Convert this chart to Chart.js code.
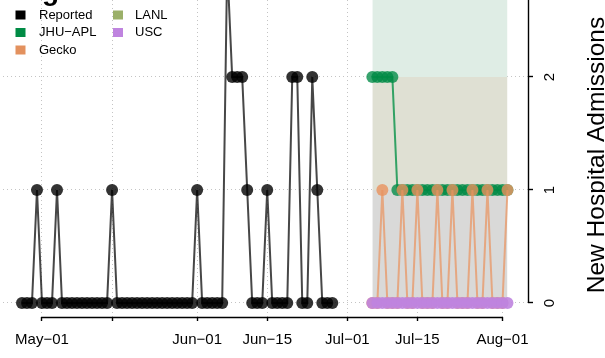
<!DOCTYPE html>
<html>
<head>
<meta charset="utf-8">
<script src="https://cdn.jsdelivr.net/npm/chart.js@4/dist/chart.umd.min.js"></script>
<style>
html,body{margin:0;padding:0;background:#ffffff;}
canvas{display:block;}
</style>
</head>
<body>
<canvas id="c" width="605" height="358" style="width:605px;height:358px"></canvas>
<script>
// ---------- data ----------
const originDate = '2020-05-01';
const seriesNames = ['Reported', 'JHU\u2212APL', 'Gecko', 'LANL', 'USC'];

const reportedStart = '2020-04-27';
const reportedValues = [
  0,0,0,1,
  0,0,0,1,0,0,0,0,0,0,0,0,0,0,1,0,0,0,0,0,0,0,0,0,0,0,0,0,0,0,0,
  1,0,0,0,0,0,3,2,2,2,1,0,0,0,1,0,0,0,0,2,2,0,0,2,1,0,0,0
];

const forecastStart = '2020-07-06';
const jhuValues   = [2,2,2,2,2,1,1,1,1,1,1,1,1,1,1,1,1,1,1,1,1,1,1,1,1,1,1,1];
const geckoValues = [0,0,1,0,0,0,1,0,0,1,0,0,0,1,0,0,1,0,0,0,1,0,0,1,0,0,0,1];
const lanlValues  = [];
const uscValues   = [0,0,0,0,0,0,0,0,0,0,0,0,0,0,0,0,0,0,0,0,0,0,0,0,0,0,0,0];

// shaded forecast bands (lower/upper edges)
const bandEdges = [0, 1, 2, 3];

const tickDates  = ['2020-05-01','2020-05-15','2020-06-01','2020-06-15','2020-07-01','2020-07-15','2020-08-01'];
const tickLabels = ['May\u221201','','Jun\u221201','Jun\u221215','Jul\u221201','Jul\u221215','Aug\u221201'];
const yTicks = [0, 1, 2];
const yTitle = 'New Hospital Admissions';
const titleText = 'g';

// ---------- helpers ----------
function dayNum(s){ return (Date.parse(s + 'T00:00:00Z') - Date.parse(originDate + 'T00:00:00Z')) / 86400000; }
function series(start, vals){ const d0 = dayNum(start); return vals.map((v, i) => ({x: d0 + i, y: v})); }
const fcFirst = dayNum(forecastStart);
const fcLast = fcFirst + jhuValues.length - 1;
function band(level){ return [{x: fcFirst, y: level}, {x: fcLast, y: level}]; }

const legendColors = ['#000000', '#008B45', '#E3915E', '#9BB069', '#BF84DF'];
const FONT = '"Liberation Sans", Arial, sans-serif';

const common = {type: 'line', showLine: true, tension: 0, pointRadius: 6, pointHoverRadius: 6, pointBorderWidth: 0, fill: false};

const datasets = [
  Object.assign({}, common, {label: seriesNames[4], data: series(forecastStart, uscValues), order: 1,
    borderColor: 'rgba(191,132,223,0.8)', borderWidth: 2, pointBackgroundColor: 'rgba(191,132,223,0.9)'}),
  Object.assign({}, common, {label: seriesNames[2], data: series(forecastStart, geckoValues), order: 2,
    borderColor: 'rgba(232,149,100,0.75)', borderWidth: 2, pointBackgroundColor: 'rgba(232,146,94,0.8)'}),
  Object.assign({}, common, {label: seriesNames[1], data: series(forecastStart, jhuValues), order: 3,
    borderColor: 'rgba(20,150,80,0.85)', borderWidth: 2, pointBackgroundColor: 'rgba(0,139,69,0.78)'}),
  Object.assign({}, common, {label: seriesNames[3], data: series(forecastStart, lanlValues), order: 4,
    borderColor: 'rgba(155,176,105,0.8)', borderWidth: 2, pointBackgroundColor: 'rgba(155,176,105,0.8)'}),
  Object.assign({}, common, {label: seriesNames[0], data: series(reportedStart, reportedValues), order: 5,
    borderColor: 'rgba(25,25,25,0.8)', borderWidth: 2, pointBackgroundColor: 'rgba(0,0,0,0.8)'}),
  {type: 'line', label: 'band3', data: band(bandEdges[3]), order: 10, fill: {value: bandEdges[2]},
    backgroundColor: '#dfede5', borderWidth: 0, pointRadius: 0, pointHoverRadius: 0},
  {type: 'line', label: 'band2', data: band(bandEdges[2]), order: 11, fill: {value: bandEdges[1]},
    backgroundColor: '#dfe0d3', borderWidth: 0, pointRadius: 0, pointHoverRadius: 0},
  {type: 'line', label: 'band1', data: band(bandEdges[1]), order: 12, fill: {value: bandEdges[0]},
    backgroundColor: '#d9d9d8', borderWidth: 0, pointRadius: 0, pointHoverRadius: 0}
];

function noPad(s){ s.paddingTop = 0; s.paddingBottom = 0; s.paddingLeft = 0; s.paddingRight = 0; }

const decor = {
  id: 'decor',
  afterDraw(chart){
    const ctx = chart.ctx, xs = chart.scales.x, ys = chart.scales.y, ca = chart.chartArea;
    ctx.save();
    // axis lines (R style: from first to last tick)
    ctx.strokeStyle = '#000'; ctx.lineWidth = 1.4;
    ctx.beginPath();
    const xa = xs.getPixelForValue(dayNum(tickDates[0]));
    const xb = xs.getPixelForValue(dayNum(tickDates[tickDates.length - 1]));
    ctx.moveTo(xa, ca.bottom + 0.5); ctx.lineTo(xb, ca.bottom + 0.5);
    ctx.moveTo(ca.right + 0.5, ys.getPixelForValue(yTicks[0])); ctx.lineTo(ca.right + 0.5, ys.getPixelForValue(3));
    ctx.stroke();

    // title (mostly above the visible area)
    ctx.fillStyle = '#000';
    ctx.font = 'bold 28px ' + FONT;
    ctx.textAlign = 'left'; ctx.textBaseline = 'alphabetic';
    ctx.fillText(titleText, 42, 0);

    // y axis title
    ctx.save();
    ctx.translate(604, 155);
    ctx.rotate(-Math.PI / 2);
    ctx.font = '24.5px ' + FONT;
    ctx.textAlign = 'center'; ctx.textBaseline = 'alphabetic';
    ctx.fillText(yTitle, 0, 0);
    ctx.restore();

    // legend (two columns)
    ctx.font = '13px ' + FONT;
    ctx.textBaseline = 'middle'; ctx.textAlign = 'left';
    const rows = [15, 32.5, 50];
    const cols = [{sq: 20.5, tx: 39}, {sq: 118, tx: 135}];
    seriesNames.forEach((name, i) => {
      const c = cols[Math.floor(i / 3)], ry = rows[i % 3];
      ctx.fillStyle = legendColors[i];
      ctx.fillRect(c.sq - 5, ry - 4.5, 10, 9);
      ctx.fillStyle = '#000';
      ctx.fillText(name, c.tx, ry);
    });
    ctx.restore();
  }
};

new Chart(document.getElementById('c'), {
  type: 'line',
  data: {datasets},
  options: {
    responsive: false,
    animation: false,
    devicePixelRatio: 1,
    layout: {autoPadding: false, padding: {left: 3, right: 0, top: 0, bottom: 0}},
    plugins: {legend: {display: false}, tooltip: {enabled: false}, title: {display: false}},
    scales: {
      x: {
        type: 'linear', bounds: 'data', min: -7.79, max: 97.1, z: 1,
        afterBuildTicks: s => { s.ticks = tickDates.map(d => ({value: dayNum(d)})); },
        afterFit: s => { s.height = 41; noPad(s); },
        grid: {color: '#c4c4c4', lineWidth: 1, drawOnChartArea: true, drawTicks: true, tickLength: 4, tickColor: '#000', tickWidth: 1.4},
        border: {display: false, dash: [1, 3]},
        ticks: {autoSkip: false, maxRotation: 0, minRotation: 0, padding: 10, color: '#000',
          font: {family: FONT, size: 15}, callback: (v, i) => tickLabels[i]}
      },
      y: {
        type: 'linear', position: 'right', bounds: 'data', min: -0.1239, max: 2.6814, z: 1,
        afterBuildTicks: s => { s.ticks = yTicks.map(v => ({value: v})); },
        afterFit: s => { s.width = 77; noPad(s); },
        grid: {color: '#c4c4c4', lineWidth: 1, drawOnChartArea: true, drawTicks: true, tickLength: 5, tickColor: '#000', tickWidth: 1.4},
        border: {display: false, dash: [1, 3]},
        ticks: {minRotation: 90, maxRotation: 90, crossAlign: 'center', padding: 13, color: '#000',
          font: {family: FONT, size: 15}, callback: v => String(v)}
      }
    }
  },
  plugins: [decor]
});
</script>
</body>
</html>
